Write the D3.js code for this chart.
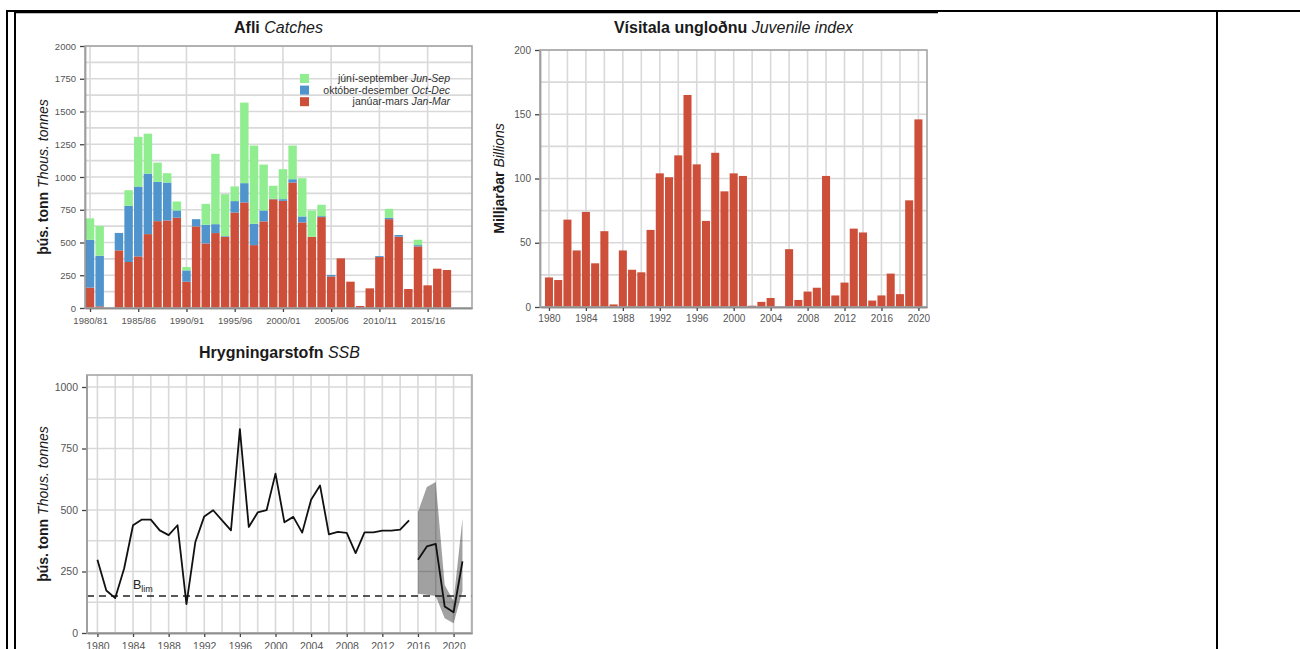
<!DOCTYPE html>
<html>
<head>
<meta charset="utf-8">
<script src="https://cdn.jsdelivr.net/npm/d3@7"></script>
<style>
  html, body { margin: 0; padding: 0; background: #fff; }
  svg { display: block; font-family: "Liberation Sans", Arial, sans-serif; }
</style>
</head>
<body>
<svg id="fig" width="1300" height="649"></svg>
<script>
// ---- Catches by season (thousand tonnes) ----
const seasons = ["1980/81","1981/82","1982/83","1983/84","1984/85","1985/86","1986/87","1987/88","1988/89","1989/90",
  "1990/91","1991/92","1992/93","1993/94","1994/95","1995/96","1996/97","1997/98","1998/99","1999/00",
  "2000/01","2001/02","2002/03","2003/04","2004/05","2005/06","2006/07","2007/08","2008/09","2009/10",
  "2010/11","2011/12","2012/13","2013/14","2014/15","2015/16","2016/17","2017/18"];
const catchJanMar = [156, 13, 0, 440, 351, 394, 564, 663, 668, 689, 201, 623, 493, 572, 544, 729, 806, 480, 661, 830,
  818, 958, 653, 544, 694, 241, 379, 201, 15, 150, 389, 678, 544, 145, 470, 173, 300, 290];
const catchOctDec = [365, 386, 0, 133, 429, 533, 462, 300, 290, 56, 86, 55, 142, 68, 5, 87, 147, 163, 84, 3,
  13, 25, 46, 0, 7, 11, 0, 0, 0, 0, 7, 11, 13, 0, 10, 0, 0, 0];
const catchJunSep = [163, 227, 0, 0, 119, 379, 305, 147, 71, 68, 26, 0, 160, 537, 320, 112, 615, 597, 350, 100,
  229, 257, 292, 201, 87, 0, 0, 0, 0, 0, 0, 68, 0, 0, 41, 0, 0, 0];
const catchTickLabels = ["1980/81","1985/86","1990/91","1995/96","2000/01","2005/06","2010/11","2015/16"];
const catchYTicks = [0, 250, 500, 750, 1000, 1250, 1500, 1750, 2000];
const legendItems = [
  { key: "junSep", is: "júní-september", en: "Jun-Sep" },
  { key: "octDec", is: "október-desember", en: "Oct-Dec" },
  { key: "janMar", is: "janúar-mars", en: "Jan-Mar" }
];

// ---- Juvenile index (billions) ----
const juvYears = [1980,1981,1982,1983,1984,1985,1986,1987,1988,1989,1990,1991,1992,1993,1994,1995,1996,1997,1998,1999,
  2000,2001,2002,2003,2004,2005,2006,2007,2008,2009,2010,2011,2012,2013,2014,2015,2016,2017,2018,2019,2020];
const juvIndex = [23, 21, 68, 44, 74, 34, 59, 2, 44, 29, 27, 60, 104, 101, 118, 165, 111, 67, 120, 90,
  104, 102, 1, 4, 7, 0, 45, 5.5, 12, 15, 102, 9, 19, 61, 58, 5, 9, 26, 10, 83, 146];
const juvYTicks = [0, 50, 100, 150, 200];
const juvXTicks = [1980,1984,1988,1992,1996,2000,2004,2008,2012,2016,2020];

// ---- Spawning stock biomass (thousand tonnes) ----
const ssbYears = [1980,1981,1982,1983,1984,1985,1986,1987,1988,1989,1990,1991,1992,1993,1994,1995,1996,1997,1998,1999,
  2000,2001,2002,2003,2004,2005,2006,2007,2008,2009,2010,2011,2012,2013,2014,2015];
const ssbValues = [298, 173, 142, 262, 438, 461, 461, 417, 398, 438, 117, 370, 474, 499, 458, 417, 829, 431, 490, 499,
  648, 450, 472, 408, 542, 600, 401, 411, 407, 325, 409, 409, 416, 416, 420, 458];
const ssbModelYears = [2016, 2017, 2018, 2019, 2020, 2021];
const ssbModel = [298, 352, 362, 108, 84, 291];
const ssbLower = [160, 155, 150, 60, 40, 170];
const ssbUpper = [492, 594, 614, 195, 130, 465];
const bLim = 150;
const ssbYTicks = [0, 250, 500, 750, 1000];
const ssbXTicks = [1980,1984,1988,1992,1996,2000,2004,2008,2012,2016,2020];

const colors = { janMar: "#CD4F39", octDec: "#4F94CD", junSep: "#90EE90" };
const gridColor = "#d9d9d9";
const boxColor = "#a6a6a6";
const tickText = "#555";

const svg = d3.select("#fig");

// page frame lines
const frame = svg.append("g").attr("stroke", "#000").attr("fill", "none");
frame.append("line").attr("x1", 6).attr("x2", 1300).attr("y1", 11).attr("y2", 11).attr("stroke-width", 2);
frame.append("line").attr("x1", 15).attr("x2", 938).attr("y1", 12.5).attr("y2", 12.5).attr("stroke-width", 1.5);
frame.append("line").attr("x1", 7).attr("x2", 7).attr("y1", 10).attr("y2", 649).attr("stroke-width", 2);
frame.append("line").attr("x1", 15).attr("x2", 15).attr("y1", 12).attr("y2", 649).attr("stroke-width", 2);
frame.append("line").attr("x1", 1217).attr("x2", 1217).attr("y1", 12).attr("y2", 649).attr("stroke-width", 2);

function addTitle(x, y, bold, italic) {
  const t = svg.append("text").attr("x", x).attr("y", y).attr("text-anchor", "middle")
    .attr("font-size", 16).attr("fill", "#1a1a1a");
  t.append("tspan").attr("font-weight", "bold").text(bold + " ");
  t.append("tspan").attr("font-style", "italic").text(italic);
}
function addYLabel(x, y, bold, italic) {
  const t = svg.append("text").attr("transform", `translate(${x},${y}) rotate(-90)`)
    .attr("text-anchor", "middle").attr("font-size", 14).attr("fill", "#1a1a1a");
  t.append("tspan").attr("font-weight", "bold").text(bold + " ");
  t.append("tspan").attr("font-style", "italic").text(italic);
}
function styleAxis(g, lineColor, fontSize) {
  g.select(".domain").attr("stroke", lineColor).attr("stroke-width", 1.6);
  g.selectAll(".tick line").attr("stroke", "#444").attr("stroke-width", 1.3);
  g.selectAll(".tick text").attr("fill", tickText).attr("font-size", fontSize)
    .attr("font-family", "'Liberation Sans', Arial, sans-serif");
}
function drawBox(L, R, T, B) {
  svg.append("rect").attr("x", L).attr("y", T).attr("width", R - L).attr("height", B - T)
    .attr("fill", "none").attr("stroke", boxColor).attr("stroke-width", 1.6);
}
const intFmt = d3.format("d");

// ================= Catches =================
(function () {
  const L = 85, R = 472, T = 46, B = 308;
  const x = d3.scaleLinear().domain([-0.52, 39.6]).range([L, R]);
  const y = d3.scaleLinear().domain([0, 2000]).range([B, T]);
  const g = svg.append("g");

  g.append("g").selectAll("line").data(d3.range(0, 2001, 125)).join("line")
    .attr("x1", L).attr("x2", R).attr("y1", d => y(d)).attr("y2", d => y(d))
    .attr("stroke", gridColor).attr("stroke-width", 1.6);
  const tickIdx = catchTickLabels.map(s => seasons.indexOf(s));
  g.append("g").selectAll("line").data(tickIdx).join("line")
    .attr("x1", d => x(d)).attr("x2", d => x(d)).attr("y1", T).attr("y2", B)
    .attr("stroke", gridColor).attr("stroke-width", 1.6);

  const rows = seasons.map((s, i) => ({ i, janMar: catchJanMar[i], octDec: catchOctDec[i], junSep: catchJunSep[i] }));
  const stack = d3.stack().keys(["janMar", "octDec", "junSep"])(rows);
  const step = x(1) - x(0);
  const bw = step - 1.2;
  g.append("g").selectAll("g").data(stack).join("g").attr("fill", d => colors[d.key])
    .selectAll("rect").data(d => d.filter(v => v[1] > v[0])).join("rect")
    .attr("x", d => x(d.data.i) - bw / 2).attr("width", bw)
    .attr("y", d => y(d[1])).attr("height", d => y(d[0]) - y(d[1]));

  drawBox(L, R, T, B);
  const ya = g.append("g").attr("transform", `translate(${L},0)`)
    .call(d3.axisLeft(y).tickValues(catchYTicks).tickFormat(intFmt).tickSize(5).tickSizeOuter(0).tickPadding(4));
  styleAxis(ya, "#808080", 9.5);
  const xa = g.append("g").attr("transform", `translate(0,${B})`)
    .call(d3.axisBottom(x).tickValues(tickIdx).tickFormat(i => seasons[i]).tickSize(4).tickSizeOuter(0).tickPadding(5));
  styleAxis(xa, "#333", 9.5);

  // legend
  const lg = g.append("g");
  legendItems.forEach((it, k) => {
    const yy = 74 + k * 11.6;
    lg.append("rect").attr("x", 300).attr("y", yy).attr("width", 9).attr("height", 9).attr("fill", colors[it.key]);
    const t = lg.append("text").attr("x", 450).attr("y", yy + 8).attr("text-anchor", "end")
      .attr("font-size", 10.5).attr("fill", "#333");
    t.append("tspan").text(it.is + " ");
    t.append("tspan").attr("font-style", "italic").text(it.en);
  });

  addTitle((L + R) / 2, 32.5, "Afli", "Catches");
  addYLabel(47.5, (T + B) / 2, "þús. tonn", "Thous. tonnes");
})();

// ================= Juvenile index =================
(function () {
  const L = 540, R = 927, T = 50, B = 307;
  const x = d3.scaleLinear().domain([1979.03, 2020.93]).range([L, R]);
  const y = d3.scaleLinear().domain([0, 200]).range([B, T]);
  const g = svg.append("g");

  g.append("g").selectAll("line").data(d3.range(0, 201, 25)).join("line")
    .attr("x1", L).attr("x2", R).attr("y1", d => y(d)).attr("y2", d => y(d))
    .attr("stroke", gridColor).attr("stroke-width", 1.6);
  g.append("g").selectAll("line").data(d3.range(1980, 2021, 2)).join("line")
    .attr("x1", d => x(d)).attr("x2", d => x(d)).attr("y1", T).attr("y2", B)
    .attr("stroke", gridColor).attr("stroke-width", 1.6);

  const step = x(1981) - x(1980);
  const bw = step - 1.2;
  g.append("g").attr("fill", colors.janMar).selectAll("rect")
    .data(juvYears.map((yr, i) => ({ yr, v: juvIndex[i] })).filter(d => d.v > 0)).join("rect")
    .attr("x", d => x(d.yr) - bw / 2).attr("width", bw)
    .attr("y", d => y(d.v)).attr("height", d => y(0) - y(d.v));

  drawBox(L, R, T, B);
  const ya = g.append("g").attr("transform", `translate(${L},0)`)
    .call(d3.axisLeft(y).tickValues(juvYTicks).tickFormat(intFmt).tickSize(5).tickSizeOuter(0).tickPadding(4));
  styleAxis(ya, "#808080", 10);
  const xa = g.append("g").attr("transform", `translate(0,${B})`)
    .call(d3.axisBottom(x).tickValues(juvXTicks).tickFormat(intFmt).tickSize(4).tickSizeOuter(0).tickPadding(4));
  styleAxis(xa, "#333", 10);

  addTitle((L + R) / 2, 32.5, "Vísitala ungloðnu", "Juvenile index");
  addYLabel(503.5, (T + B) / 2, "Milljarðar", "Billions");
})();

// ================= Spawning stock biomass =================
(function () {
  const L = 87, R = 472, T = 375, B = 633;
  const x = d3.scaleLinear().domain([1978.83, 2022.07]).range([L, R]);
  const y = d3.scaleLinear().domain([0, 1000]).range([B, 387]);
  const g = svg.append("g");

  g.append("g").selectAll("line").data(d3.range(0, 1001, 125)).join("line")
    .attr("x1", L).attr("x2", R).attr("y1", d => y(d)).attr("y2", d => y(d))
    .attr("stroke", gridColor).attr("stroke-width", 1.6);
  g.append("g").selectAll("line").data(d3.range(1980, 2023, 2)).join("line")
    .attr("x1", d => x(d)).attr("x2", d => x(d)).attr("y1", T).attr("y2", B)
    .attr("stroke", gridColor).attr("stroke-width", 1.6);

  const band = ssbModelYears.map((yr, i) => ({ yr, lo: ssbLower[i], hi: ssbUpper[i] }));
  g.append("path").datum(band)
    .attr("d", d3.area().x(d => x(d.yr)).y0(d => y(d.lo)).y1(d => y(d.hi)))
    .attr("fill", "#000").attr("fill-opacity", 0.37);

  g.append("line").attr("x1", L).attr("x2", R).attr("y1", y(bLim)).attr("y2", y(bLim))
    .attr("stroke", "#222").attr("stroke-width", 1.5).attr("stroke-dasharray", "7,5");

  const line = d3.line().x(d => x(d[0])).y(d => y(d[1]));
  g.append("path").datum(ssbYears.map((yr, i) => [yr, ssbValues[i]]))
    .attr("d", line).attr("fill", "none").attr("stroke", "#111").attr("stroke-width", 1.8)
    .attr("stroke-linejoin", "round");
  g.append("path").datum(ssbModelYears.map((yr, i) => [yr, ssbModel[i]]))
    .attr("d", line).attr("fill", "none").attr("stroke", "#111").attr("stroke-width", 1.8)
    .attr("stroke-linejoin", "round");

  const bl = g.append("text").attr("x", 133).attr("y", 589).attr("font-size", 12.5).attr("fill", "#222");
  bl.append("tspan").text("B");
  bl.append("tspan").attr("font-size", 9).attr("dy", 3).text("lim");

  drawBox(L, R, T, B);
  const ya = g.append("g").attr("transform", `translate(${L},0)`)
    .call(d3.axisLeft(y).tickValues(ssbYTicks).tickFormat(intFmt).tickSize(5).tickSizeOuter(0).tickPadding(4));
  ya.select(".domain").remove();
  g.append("line").attr("x1", L).attr("x2", L).attr("y1", T).attr("y2", B).attr("stroke", "#666").attr("stroke-width", 1.6);
  styleAxis(ya, "#666", 10.5);
  const xa = g.append("g").attr("transform", `translate(0,${B})`)
    .call(d3.axisBottom(x).tickValues(ssbXTicks).tickFormat(intFmt).tickSize(4).tickSizeOuter(0).tickPadding(6));
  styleAxis(xa, "#333", 10.5);

  addTitle((L + R) / 2, 358, "Hrygningarstofn", "SSB");
  addYLabel(47.5, (T + B) / 2, "þús. tonn", "Thous. tonnes");
})();
</script>
</body>
</html>
